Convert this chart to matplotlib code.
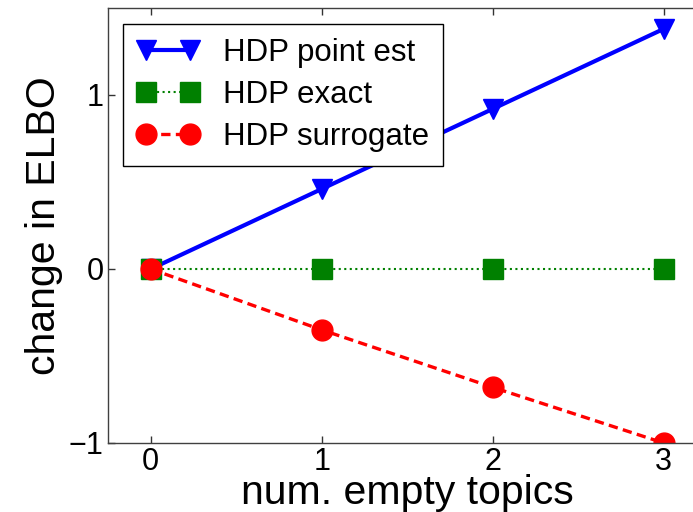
import matplotlib
matplotlib.use('Agg')
import matplotlib.pyplot as plt

num_empty = [0, 1, 2, 3]
point_est = [0.0, 0.46, 0.92, 1.38]
exact = [0.0, 0.0, 0.0, 0.0]
surrogate = [0.0, -0.35, -0.68, -1.0]

xticks = [0, 1, 2, 3]
yticks = [-1, 0, 1]
ytick_labels = ['\u22121', '0', '1']

plt.rcParams['font.family'] = ['Liberation Sans', 'DejaVu Sans']

fig = plt.figure(figsize=(6.93, 5.12), dpi=100)
ax = fig.add_axes([108 / 693, 69 / 512, 598.5 / 693, 435 / 512])

ax.plot(num_empty, point_est, color='blue', lw=3, marker='v', ms=15,
        label='HDP point est')
ax.plot(num_empty, exact, color=(0, 0.5, 0), lw=1.5, ls=':', marker='s', ms=14,
        label='HDP exact')
ax.plot(num_empty, surrogate, color='red', lw=2.4, ls=(0, (2.8, 1.6)), marker='o',
        ms=15, label='HDP surrogate')

ax.set_xlim(-0.25, 3.25)
ax.set_ylim(-1, 1.5)
ax.set_xticks(xticks)
ax.set_yticks(yticks)
ax.set_yticklabels(ytick_labels)
ax.tick_params(direction='in', length=5, width=1, labelsize=22, pad=3,
               top=True, right=True, color='0.2')
for s in ax.spines.values():
    s.set_color('0.25')
    s.set_linewidth(1)

ax.set_xlabel('num. empty topics', fontsize=29.5, labelpad=-2)
ax.set_ylabel('change in ELBO', fontsize=29.5, labelpad=4)

leg = ax.legend(loc='upper left', bbox_to_anchor=(123 / 693, 1 - 24 / 512),
                bbox_transform=fig.transFigure, borderaxespad=0,
                fontsize=22.5, fancybox=False, framealpha=1, edgecolor='black',
                handlelength=2.0, handletextpad=0.75, labelspacing=0.38,
                borderpad=0.45, numpoints=2)
leg.get_frame().set_linewidth(1)

fig.savefig('out.png', dpi=100)
